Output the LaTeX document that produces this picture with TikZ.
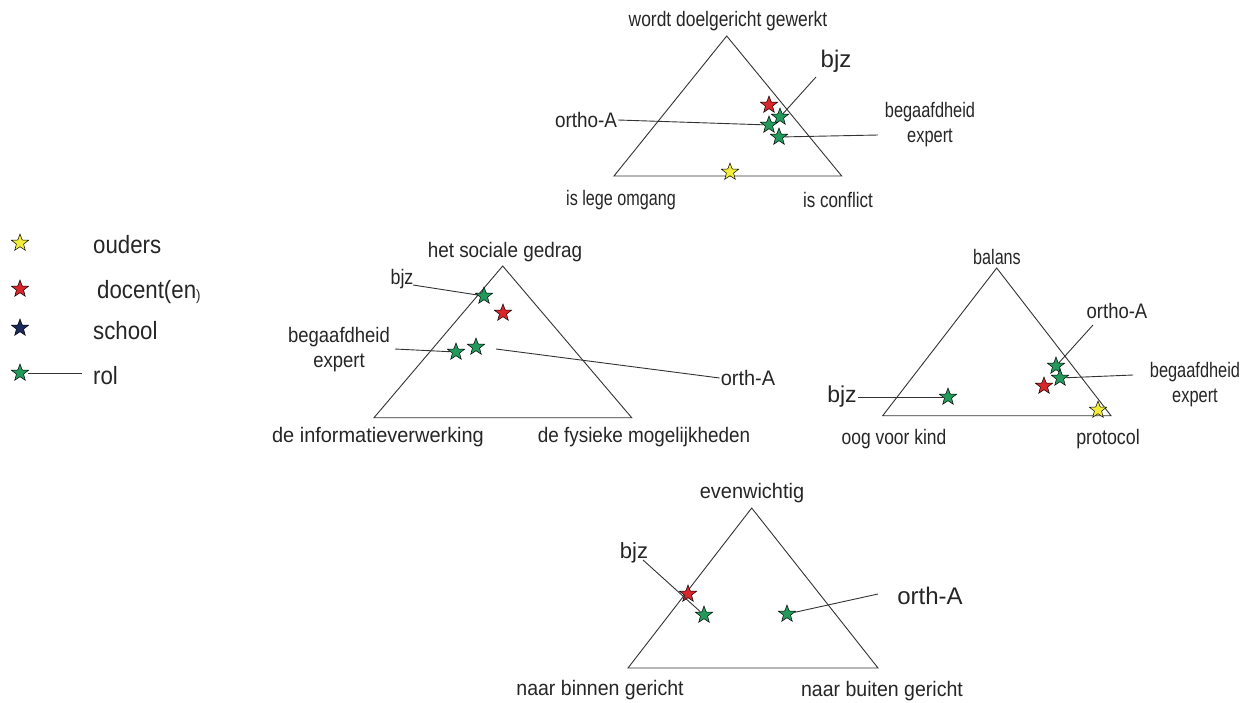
\documentclass[tikz,border=0pt]{standalone}
\usepackage{fontspec}
\usepackage{graphicx}
\setmainfont{Liberation Sans}
\usetikzlibrary{shapes.geometric}
\definecolor{syellow}{HTML}{F2EC3A}
\definecolor{sred}{HTML}{D8262B}
\definecolor{sblue}{HTML}{1C2A5C}
\definecolor{sgreen}{HTML}{239A5C}
\definecolor{tline}{HTML}{333333}
\newcommand{\hs}[2]{\scalebox{#1}[1]{#2}}
\tikzset{
  starmark/.style={star, star points=5, star point ratio=2.4, minimum size=18pt, inner sep=0pt, draw=black, line width=0.5pt},
  ys/.style={starmark, fill=syellow},
  rs/.style={starmark, fill=sred},
  bs/.style={starmark, fill=sblue},
  gs/.style={starmark, fill=sgreen},
  lbl/.style={inner sep=1pt, font=\fontsize{21}{25}\selectfont, text=black!85},
  tri/.style={draw=tline, line width=0.9pt, line join=miter},
  lead/.style={draw=tline, line width=0.9pt}
}
\begin{document}
\begin{tikzpicture}[x=1pt,y=-1pt]
\useasboundingbox (0,0) rectangle (1251,702);
\fill[white] (0,0) rectangle (1251,702);

% ---------- Legend ----------
\node[ys] (lg1) at (20,243) {};
\node[rs] (lg2) at (20,289) {};
\node[bs] (lg3) at (20,328) {};
\node[gs] (lg4) at (20,373) {};
\coordinate (lg4e) at (82,373);
\draw[lead, shorten <=3pt] (lg4.east) -- (lg4e);
\node[lbl, anchor=west, font=\fontsize{25}{28}\selectfont] (lt1) at (92,245) {\hs{0.89}{ouders}};
\node[lbl, anchor=west, font=\fontsize{25}{28}\selectfont] (lt2) at (96,292) {\hs{0.89}{docent(en\raisebox{-2pt}{\fontsize{15}{15}\selectfont)}}};
\node[lbl, anchor=west, font=\fontsize{25}{28}\selectfont] (lt3) at (92,331) {\hs{0.89}{school}};
\node[lbl, anchor=west, font=\fontsize{25}{28}\selectfont] (lt4) at (92,376) {\hs{0.89}{rol}};

% ---------- Top triangle ----------
\coordinate (ta) at (726.7,36);
\coordinate (tb) at (614,176);
\coordinate (tc) at (841.7,176);
\draw[tri] (ta) -- (tb) -- (tc) -- cycle;
\node[lbl] (ttop) at (728,21) {\hs{0.83}{wordt doelgericht gewerkt}};
\node[lbl] (tleft) at (621,200) {\hs{0.77}{is lege omgang}};
\node[lbl] (tright) at (838,200) {\hs{0.81}{is conflict}};
\node[ys] (ty) at (730,172) {};
\node[rs] (tr) at (769,105) {};
\node[gs] (tg1) at (780,117) {};
\node[gs] (tg2) at (769,125) {};
\node[gs] (tg3) at (779,137) {};
\node[lbl, font=\fontsize{24}{26}\selectfont] (tbjz) at (836,61) {bjz};
\node[lbl] (torth) at (586,120) {\hs{0.9}{ortho-A}};
\node[lbl, align=center] (tbeg) at (930,125) {\hs{0.78}{begaafdheid}\\\hs{0.78}{expert}};
\coordinate (tbjzl) at (816,77);
\coordinate (tbegl) at (878,135);
\draw[lead] (tbjzl) -- (tg1);
\draw[lead] (torth.east) -- (tg2);
\draw[lead] (tg3) -- (tbegl);

% ---------- Left triangle ----------
\coordinate (la) at (502.7,266);
\coordinate (lb) at (374,417.7);
\coordinate (lc) at (631.7,417.7);
\draw[tri] (la) -- (lb) -- (lc) -- cycle;
\node[lbl] (ltop) at (505,252) {\hs{0.9}{het sociale gedrag}};
\node[lbl] (lleft) at (378,437) {\hs{0.95}{de informatieverwerking}};
\node[lbl] (lright) at (644,437) {\hs{0.9}{de fysieke mogelijkheden}};
\node[gs] (lg) at (484,296) {};
\node[rs] (lr) at (503,313) {};
\node[gs] (lgb) at (456,352) {};
\node[gs] (lgo) at (476,347) {};
\node[lbl] (lbjz) at (402,279) {\hs{0.85}{bjz}};
\node[lbl, align=center] (lbeg) at (339,350) {\hs{0.88}{begaafdheid}\\\hs{0.88}{expert}};
\node[lbl] (lorth) at (748,378) {\hs{0.95}{orth-A}};
\coordinate (lbjzl) at (413,285);
\coordinate (lbegl) at (395,349);
\coordinate (lorthl) at (496,349);
\draw[lead] (lbjzl) -- (lg);
\draw[lead] (lbegl) -- (lgb);
\draw[lead] (lorthl) -- (lorth.west);

% ---------- Right triangle ----------
\coordinate (ra) at (996.7,268);
\coordinate (rb) at (882.7,415.7);
\coordinate (rc) at (1111,415.7);
\draw[tri] (ra) -- (rb) -- (rc) -- cycle;
\node[lbl] (rtop) at (997,257) {\hs{0.77}{balans}};
\node[lbl] (rleft) at (894,439) {\hs{0.83}{oog voor kind}};
\node[lbl] (rright) at (1108,439) {\hs{0.85}{protocol}};
\node[gs] (rg1) at (1056,366) {};
\node[gs] (rg2) at (1060,378) {};
\node[rs] (rr) at (1044,386) {};
\node[ys] (ry) at (1098,410) {};
\node[gs] (rg3) at (948,397) {};
\node[lbl] (rorth) at (1117,311) {\hs{0.88}{ortho-A}};
\node[lbl, align=center] (rbeg) at (1195,385) {\hs{0.78}{begaafdheid}\\\hs{0.78}{expert}};
\node[lbl, font=\fontsize{23}{25}\selectfont] (rbjz) at (842,397) {bjz};
\coordinate (rorthl) at (1093,325);
\coordinate (rbegl) at (1133,375);
\draw[lead] (rorthl) -- (rg1);
\draw[lead] (rg2) -- (rbegl);
\draw[lead] (rbjz.east) -- (rg3);

% ---------- Bottom triangle ----------
\coordinate (ba) at (751.7,508);
\coordinate (bb) at (628,668);
\coordinate (bc) at (878,668);
\draw[tri] (ba) -- (bb) -- (bc) -- cycle;
\node[lbl] (btop) at (752,493) {\hs{0.95}{evenwichtig}};
\node[lbl] (bleft) at (600,690) {\hs{0.93}{naar binnen gericht}};
\node[lbl] (bright) at (882,691) {\hs{0.93}{naar buiten gericht}};
\node[rs] (br) at (688,594) {};
\node[gs] (bg1) at (704,615) {};
\node[gs] (bg2) at (787,614) {};
\node[lbl, font=\fontsize{22}{24}\selectfont] (bbjz) at (634,553) {bjz};
\node[lbl, font=\fontsize{24}{26}\selectfont] (borth) at (930,596) {orth-A};
\coordinate (bbjzl) at (643,560);
\coordinate (borthl) at (878,594);
\draw[lead] (bbjzl) -- (bg1);
\draw[lead] (bg2) -- (borthl);
\end{tikzpicture}
\end{document}
